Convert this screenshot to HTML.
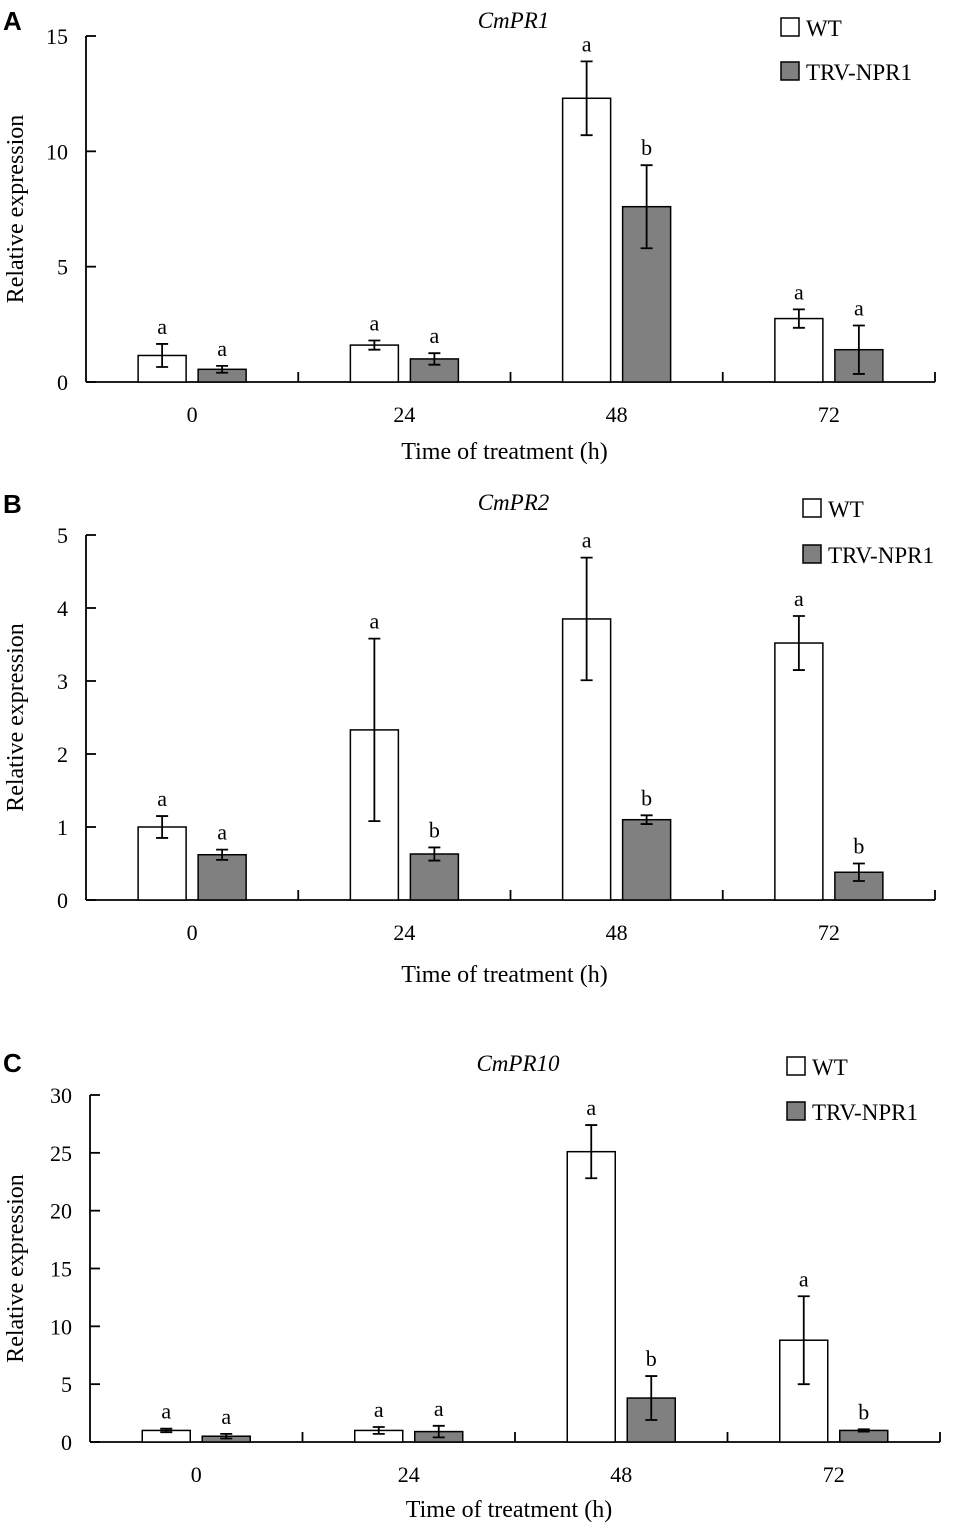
<!DOCTYPE html>
<html><head><meta charset="utf-8">
<style>
html,body{margin:0;padding:0;background:#fff;}
svg{display:block;font-family:"Liberation Serif",serif;}
</style></head>
<body>
<svg id="chart" width="955" height="1527" viewBox="0 0 955 1527" xmlns="http://www.w3.org/2000/svg"></svg>
<script>
const categories = ["0","24","48","72"];
const seriesNames = ["WT","TRV-NPR1"];
const titles = ["CmPR1","CmPR2","CmPR10"];
const panelLetters = ["A","B","C"];
const wtA = [1.15,1.6,12.3,2.75];
const wtErrA = [0.5,0.2,1.6,0.4];
const npA = [0.55,1.0,7.6,1.4];
const npErrA = [0.15,0.25,1.8,1.05];
const wtLetA = ["a","a","a","a"];
const npLetA = ["a","a","b","a"];
const ticksA = [0,5,10,15];
const wtB = [1.0,2.33,3.85,3.52];
const wtErrB = [0.15,1.25,0.84,0.37];
const npB = [0.62,0.63,1.1,0.38];
const npErrB = [0.07,0.09,0.06,0.12];
const wtLetB = ["a","a","a","a"];
const npLetB = ["a","b","b","b"];
const ticksB = [0,1,2,3,4,5];
const wtC = [1.0,1.0,25.1,8.8];
const wtErrC = [0.15,0.3,2.3,3.8];
const npC = [0.5,0.9,3.8,1.0];
const npErrC = [0.2,0.5,1.9,0.1];
const wtLetC = ["a","a","a","a"];
const npLetC = ["a","a","b","b"];
const ticksC = [0,5,10,15,20,25,30];

const svg = document.getElementById('chart');
const NS = 'http://www.w3.org/2000/svg';
function mk(tag, attrs, parent){const e=document.createElementNS(NS,tag);for(const k in attrs)e.setAttribute(k,attrs[k]);(parent||svg).appendChild(e);return e;}

const panels = [
 {wt:wtA,we:wtErrA,np:npA,ne:npErrA,wl:wtLetA,nl:npLetA,ticks:ticksA,x0:86,x1:935,y0:382,y1:36,title:15,xt:450,legX:781,legY:[18,62],letY:22},
 {wt:wtB,we:wtErrB,np:npB,ne:npErrB,wl:wtLetB,nl:npLetB,ticks:ticksB,x0:86,x1:935,y0:900,y1:535,title:497,xt:973,legX:803,legY:[499,545],letY:505},
 {wt:wtC,we:wtErrC,np:npC,ne:npErrC,wl:wtLetC,nl:npLetC,ticks:ticksC,x0:90,x1:940,y0:1442,y1:1095,title:1058,xt:1508,legX:787,legY:[1057,1102],letY:1064}
];

panels.forEach((p,pi)=>{
  const g = mk('g',{});
  
  
  const maxT = p.ticks[p.ticks.length-1];
  const yS = v => p.y0 - v/maxT*(p.y0-p.y1);
  const gw = (p.x1-p.x0)/categories.length;
  const xC = i => p.x0 + gw*(i+0.5);
  const ya = mk('line',{x1:p.x0,y1:p.y1,x2:p.x0,y2:p.y0,stroke:'#000','stroke-width':1.8},g);
  
  const xa = mk('line',{x1:p.x0,y1:p.y0,x2:p.x1,y2:p.y0,stroke:'#000','stroke-width':1.8},g);
  
  p.ticks.forEach(t=>{
    const y=yS(t);
    mk('line',{x1:p.x0,y1:y,x2:p.x0+10,y2:y,stroke:'#000','stroke-width':1.8},g);
    const tl=mk('text',{x:p.x0-18,y:y+8,'text-anchor':'end','font-size':22},g);
    tl.textContent=t;
    
  });
  for(let i=1;i<=categories.length;i++){
    const x=p.x0+gw*i;
    mk('line',{x1:x,y1:p.y0,x2:x,y2:p.y0-10,stroke:'#000','stroke-width':1.8},g);
  }
  categories.forEach((c,i)=>{
    const cl=mk('text',{x:xC(i),y:p.y0+40,'text-anchor':'middle','font-size':22},g);
    cl.textContent=c;
    
    [[p.wt,p.we,p.wl,'#fff',-30,'wt'],[p.np,p.ne,p.nl,'#808080',30,'trv-npr1']].forEach(s=>{
      const v=s[0][i], e=s[1][i], cx=xC(i)+s[4];
      const b=mk('rect',{x:cx-24,y:yS(v),width:48,height:p.y0-yS(v),fill:s[3],stroke:'#000','stroke-width':1.5},g);
      
      const eb=mk('path',{d:`M${cx},${yS(v+e)}V${yS(v-e)}M${cx-6},${yS(v+e)}H${cx+6}M${cx-6},${yS(v-e)}H${cx+6}`,stroke:'#000','stroke-width':1.8,fill:'none'},g);
      
      const lt=mk('text',{x:cx,y:yS(v+e)-10,'text-anchor':'middle','font-size':22},g);
      lt.textContent=s[2][i];
      
    });
  });
  const tt=mk('text',{x:(p.x0+p.x1)/2+3,y:p.title+13,'text-anchor':'middle','font-size':23,'font-style':'italic'},g);
  tt.textContent=titles[pi];
  
  const xt=mk('text',{x:(p.x0+p.x1)/2-6,y:p.xt+9,'text-anchor':'middle','font-size':24},g);
  xt.textContent='Time of treatment (h)';
  
  const ym=(p.y0+p.y1)/2;
  const yt=mk('text',{x:23,y:ym,'text-anchor':'middle','font-size':24,transform:`rotate(-90 23 ${ym})`},g);
  yt.textContent='Relative expression';
  
  const pl=mk('text',{x:3,y:p.letY+8,'font-size':26,'font-weight':'bold','font-family':'Liberation Sans, sans-serif'},g);
  pl.textContent=panelLetters[pi];
  
  seriesNames.forEach((n,si)=>{
    const lg=mk('g',{},g);
    
    mk('rect',{x:p.legX,y:p.legY[si],width:18,height:18,fill:si?'#808080':'#fff',stroke:'#000','stroke-width':1.5},lg);
    const lt=mk('text',{x:p.legX+25,y:p.legY[si]+18,'font-size':23},lg);
    lt.textContent=n;
  });
});
</script>
</body></html>
